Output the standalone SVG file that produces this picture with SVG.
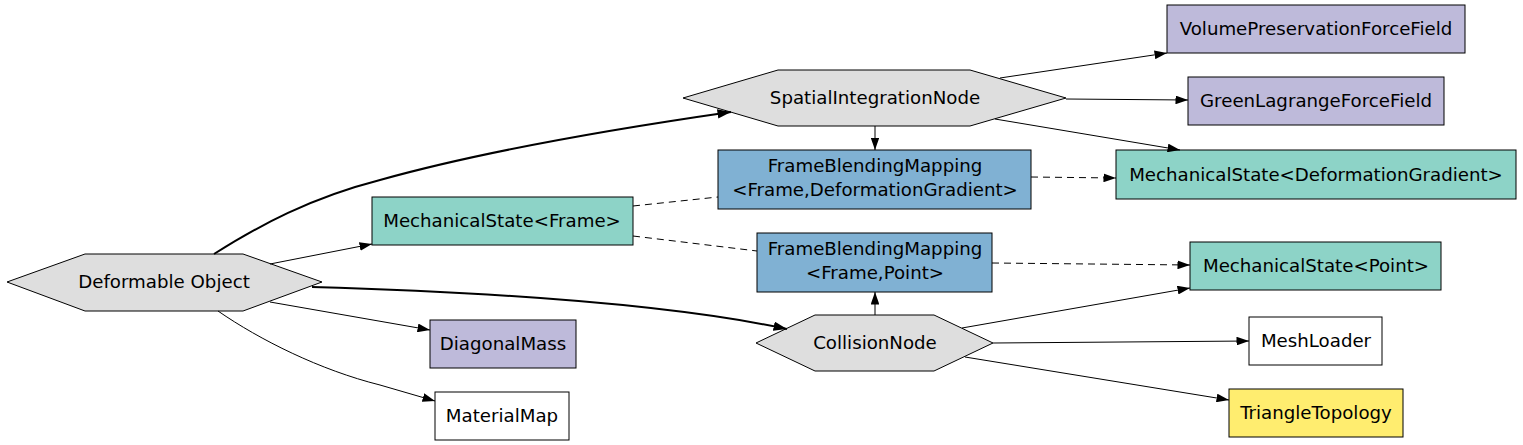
<svg xmlns="http://www.w3.org/2000/svg" width="1523" height="445" viewBox="0 0 1523 445">
<defs>
<style>
text{font-family:"DejaVu Sans","Liberation Sans",sans-serif;font-size:18.2px;fill:#000;text-anchor:middle}
.hex{fill:#dedede;stroke:#000;stroke-width:1}
.purple{fill:#bebada;stroke:#000;stroke-width:1}
.teal{fill:#8dd3c7;stroke:#000;stroke-width:1}
.blue{fill:#80b1d3;stroke:#000;stroke-width:1}
.yellow{fill:#ffed6f;stroke:#000;stroke-width:1}
.white{fill:#fff;stroke:#000;stroke-width:1}
.e{fill:none;stroke:#000;stroke-width:1}
.thick{stroke-width:2}
.dash{stroke-dasharray:7,5}
</style>
<marker id="ah" viewBox="0 0 10 7" refX="10" refY="3.5" markerWidth="12.5" markerHeight="8.75" markerUnits="userSpaceOnUse" orient="auto">
<path d="M0,0 L10,3.5 L0,7 Z" fill="#000"/>
</marker>
<marker id="ahb" viewBox="0 0 10 7" refX="10" refY="3.5" markerWidth="13.5" markerHeight="9.45" markerUnits="userSpaceOnUse" orient="auto">
<path d="M0,0 L10,3.5 L0,7 Z" fill="#000"/>
</marker>
</defs>
<g id="deformable">
<polygon class="hex" points="7,282 85,254 243,254 322,282 243,311 85,311"/>
<text x="164" y="288">Deformable Object</text>
</g>
<g id="msframe">
<rect class="teal" x="372" y="197" width="261" height="48"/>
<text x="502" y="227">MechanicalState&lt;Frame&gt;</text>
</g>
<g id="spatial">
<polygon class="hex" points="683,98 778,70 970,70 1066,98 970,126 778,126"/>
<text x="875" y="104">SpatialIntegrationNode</text>
</g>
<g id="fbmdg">
<rect class="blue" x="718" y="150" width="313" height="59"/>
<text x="875" y="172">FrameBlendingMapping</text>
<text x="875" y="196">&lt;Frame,DeformationGradient&gt;</text>
</g>
<g id="fbmp">
<rect class="blue" x="757" y="233" width="235" height="59"/>
<text x="875" y="255">FrameBlendingMapping</text>
<text x="875" y="279">&lt;Frame,Point&gt;</text>
</g>
<g id="collision">
<polygon class="hex" points="756,343 815,315 934,315 993,343 934,371 815,371"/>
<text x="875" y="349">CollisionNode</text>
</g>
<g id="diagonalmass">
<rect class="purple" x="430" y="320" width="146" height="48"/>
<text x="503" y="350">DiagonalMass</text>
</g>
<g id="materialmap">
<rect class="white" x="435" y="392" width="134" height="48"/>
<text x="502" y="422">MaterialMap</text>
</g>
<g id="volume">
<rect class="purple" x="1167" y="5" width="298" height="48"/>
<text x="1316" y="35">VolumePreservationForceField</text>
</g>
<g id="green">
<rect class="purple" x="1188" y="77" width="256" height="48"/>
<text x="1316" y="107">GreenLagrangeForceField</text>
</g>
<g id="msdg">
<rect class="teal" x="1116" y="150" width="400" height="49"/>
<text x="1316" y="181">MechanicalState&lt;DeformationGradient&gt;</text>
</g>
<g id="mspoint">
<rect class="teal" x="1190" y="242" width="251" height="48"/>
<text x="1316" y="272">MechanicalState&lt;Point&gt;</text>
</g>
<g id="meshloader">
<rect class="white" x="1249" y="317" width="133" height="48"/>
<text x="1316" y="347">MeshLoader</text>
</g>
<g id="triangle">
<rect class="yellow" x="1229" y="389" width="174" height="48"/>
<text x="1316" y="419">TriangleTopology</text>
</g>
<g id="connectors">
<path class="e thick" d="M214,254 C260,225 310,198 380,180 C480,152 620,128 731,112" marker-end="url(#ahb)"/>
<path class="e" d="M270,264 L372,244" marker-end="url(#ah)"/>
<path class="e thick" d="M312,287 C450,291 650,300 787,329" marker-end="url(#ahb)"/>
<path class="e" d="M270,302 L430,330" marker-end="url(#ah)"/>
<path class="e" d="M218,311 C260,340 320,370 380,385 L435,401" marker-end="url(#ah)"/>
<path class="e" d="M1000,78 L1167,53" marker-end="url(#ah)"/>
<path class="e" d="M1066,99 L1188,100" marker-end="url(#ah)"/>
<path class="e" d="M995,119 L1180,150" marker-end="url(#ah)"/>
<path class="e" d="M875,126 L875,150" marker-end="url(#ah)"/>
<path class="e dash" d="M633,206 L718,197"/>
<path class="e dash" d="M633,236 L757,251"/>
<path class="e dash" d="M1031,177 L1116,178" marker-end="url(#ah)"/>
<path class="e dash" d="M992,263 L1190,265" marker-end="url(#ah)"/>
<path class="e" d="M875,315 L875,292" marker-end="url(#ah)"/>
<path class="e" d="M962,328 L1190,288" marker-end="url(#ah)"/>
<path class="e" d="M993,343 L1249,341" marker-end="url(#ah)"/>
<path class="e" d="M965,357 L1229,400" marker-end="url(#ah)"/>
</g>
</svg>
